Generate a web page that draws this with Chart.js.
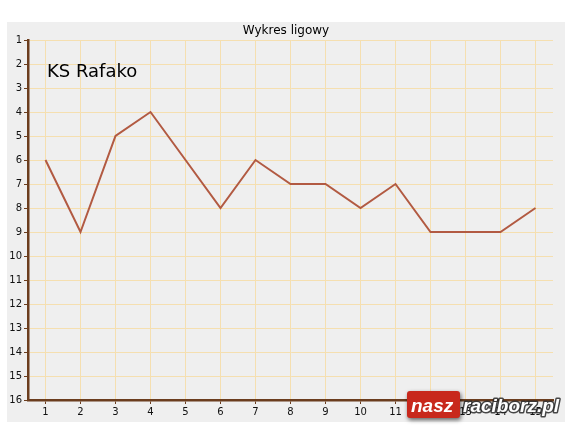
<!DOCTYPE html>
<html>
<head>
<meta charset="utf-8">
<script src="https://cdn.jsdelivr.net/npm/chart.js@4.4.1/dist/chart.umd.min.js"></script>
<style>
  html, body { margin: 0; padding: 0; background: #fff; }
  #wrap { width: 573px; height: 433px; position: relative; }
</style>
</head>
<body>
<div id="wrap"><canvas id="c" width="573" height="433"></canvas></div>
<script>
// kolejki 1..15, miejsce w tabeli
const rounds = [1, 2, 3, 4, 5, 6, 7, 8, 9, 10, 11, 12, 13, 14, 15];
const places = [6, 9, 5, 4, 6, 8, 6, 7, 7, 8, 7, 9, 9, 9, 8];
const rankTicks = [1, 2, 3, 4, 5, 6, 7, 8, 9, 10, 11, 12, 13, 14, 15, 16];
const chartTitle = 'Wykres ligowy';
const teamName = 'KS Rafako';

const FONT = '"DejaVu Sans", sans-serif';
const AXIS = '#6b3d1e';
const GRID = '#f5dfb0';

const decor = {
    id: 'decor',
    beforeDraw(chart) {
        const c = chart.ctx;
        c.save();
        c.fillStyle = '#efefef';
        c.fillRect(7, 22, 558, 400);
        c.restore();
    },
    afterDraw(chart) {
        const c = chart.ctx;
        c.save();
        c.fillStyle = '#000';
        c.font = '12px ' + FONT;
        c.textAlign = 'center';
        c.textBaseline = 'middle';
        c.fillText(chartTitle, 286, 31);
        c.font = '18px ' + FONT;
        c.textAlign = 'left';
        c.fillText(teamName, 47, 72);

        // logo
        c.shadowColor = 'rgba(0,0,0,0.6)';
        c.shadowBlur = 4;
        c.shadowOffsetX = 1;
        c.shadowOffsetY = 2;
        c.fillStyle = '#c8281c';
        c.beginPath();
        c.roundRect(407, 391, 53, 27, 3);
        c.fill();
        c.font = 'italic bold 19px "Liberation Sans", sans-serif';
        c.textBaseline = 'alphabetic';
        c.shadowColor = 'rgba(0,0,0,0)';
        c.lineJoin = 'round';
        c.strokeStyle = 'rgba(40,40,40,0.85)';
        c.lineWidth = 3;
        c.strokeText('raciborz.pl', 463, 412);
        c.fillStyle = '#fff';
        c.fillText('nasz', 411, 412);
        c.fillText('raciborz.pl', 463, 412);
        c.restore();
    }
};

new Chart(document.getElementById('c'), {
    type: 'line',
    data: {
        datasets: [{
            data: rounds.map((r, i) => ({ x: r, y: places[i] })),
            borderColor: '#b25a42',
            borderWidth: 2,
            pointRadius: 0,
            tension: 0,
            fill: false
        }]
    },
    options: {
        responsive: false,
        animation: false,
        layout: { padding: { left: 0, top: 40, right: 20, bottom: 0 } },
        plugins: { legend: { display: false }, tooltip: { enabled: false } },
        scales: {
            x: {
                type: 'linear',
                min: 0.5,
                max: 15.5,
                afterBuildTicks: ax => { ax.ticks = rounds.map(v => ({ value: v })); },
                afterFit: ax => { ax.height = 33; },
                grid: { color: GRID, tickColor: AXIS, tickLength: 4, lineWidth: 1 },
                border: { color: AXIS, width: 2.5 },
                ticks: { color: '#111', font: { family: FONT, size: 10 }, padding: 2, maxRotation: 0, autoSkip: false }
            },
            y: {
                type: 'linear',
                reverse: true,
                min: 1,
                max: 16,
                afterBuildTicks: ax => { ax.ticks = rankTicks.map(v => ({ value: v })); },
                afterFit: ax => { ax.width = 28; },
                grid: { color: GRID, tickColor: AXIS, tickLength: 4, lineWidth: 1 },
                border: { color: AXIS, width: 2.5 },
                ticks: { color: '#111', font: { family: FONT, size: 10 }, padding: 2, autoSkip: false }
            }
        }
    },
    plugins: [decor]
});
</script>
</body>
</html>
